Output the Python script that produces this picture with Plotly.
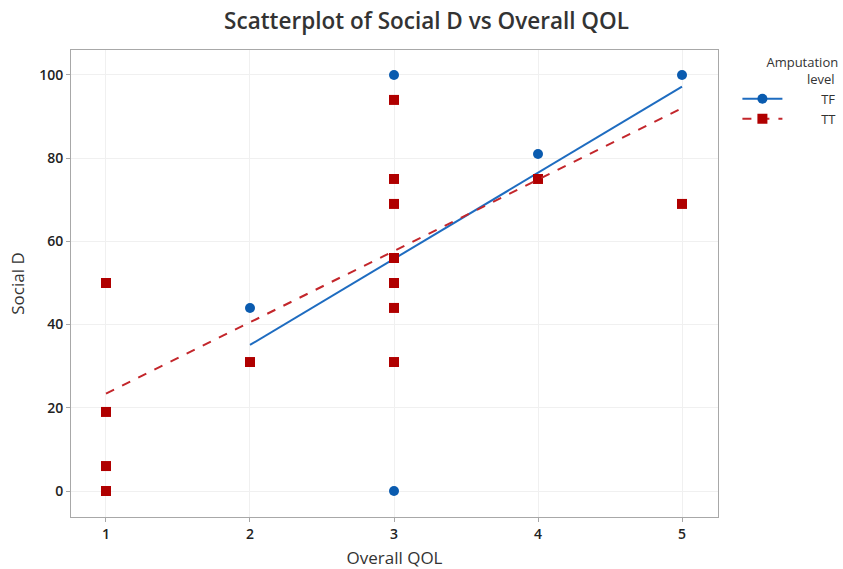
import plotly.graph_objects as go

# Data
tf_qol = [2, 3, 3, 4, 5]
tf_social = [44, 100, 0, 81, 100]
tt_qol = [1, 1, 1, 1, 2, 3, 3, 3, 3, 3, 3, 3, 4, 5]
tt_social = [50, 19, 6, 0, 31, 94, 75, 69, 56, 50, 44, 31, 75, 69]

# Fitted regression lines (end points)
tf_fit_x = [2, 5]
tf_fit_y = [35.1, 97.2]
tt_fit_x = [1, 5]
tt_fit_y = [23.4, 92.0]

x_ticks = [1, 2, 3, 4, 5]
y_ticks = [0, 20, 40, 60, 80, 100]

TF_COLOR = "#0A5BAF"
TT_COLOR = "#B00000"
FONT = "Open Sans"
NB = "\u00a0"

fig = go.Figure()

fig.add_trace(go.Scatter(
    x=tf_qol, y=tf_social, mode="markers", name="TF", legendgroup="TF",
    showlegend=False,
    marker=dict(symbol="circle", size=10, color=TF_COLOR),
))
fig.add_trace(go.Scatter(
    x=tf_fit_x, y=tf_fit_y, mode="lines", name="TF", legendgroup="TF",
    showlegend=False, line=dict(color="#1E6CC0", width=2),
))
fig.add_trace(go.Scatter(
    x=tt_qol, y=tt_social, mode="markers", name="TT", legendgroup="TT",
    showlegend=False,
    marker=dict(symbol="square", size=10, color=TT_COLOR),
))
fig.add_trace(go.Scatter(
    x=tt_fit_x, y=tt_fit_y, mode="lines", name="TT", legendgroup="TT",
    showlegend=False, line=dict(color="#C3262B", width=2, dash="dash"),
))

# legend entries (line + marker)
fig.add_trace(go.Scatter(
    x=[None], y=[None], mode="lines+markers", name=NB * 10 + "TF", legendgroup="TF",
    line=dict(color="#1E6CC0", width=2),
    marker=dict(symbol="circle", size=10, color=TF_COLOR),
))
fig.add_trace(go.Scatter(
    x=[None], y=[None], mode="lines+markers", name=NB * 10 + "TT", legendgroup="TT",
    line=dict(color="#C3262B", width=2, dash="dash"),
    marker=dict(symbol="square", size=10, color=TT_COLOR),
))

fig.update_layout(
    width=843, height=569,
    margin=dict(l=71, r=125, t=50, b=52, autoexpand=False),
    paper_bgcolor="white", plot_bgcolor="white",
    font=dict(family=FONT, color="#222222"),
    title=dict(text="Scatterplot of Social D vs Overall QOL",
               x=0.506, xanchor="center", xref="container", y=0.962, yanchor="middle",
               font=dict(size=22.5, color="#333333", family=FONT, weight=600)),
    legend=dict(
        x=1.03, y=1.0, xanchor="left", yanchor="top",
        title=dict(text=NB * 8 + "Amputation<br>" + NB * 20 + "level",
                   font=dict(size=13, color="#333333")),
        font=dict(size=13, color="#333333"),
        bgcolor="rgba(0,0,0,0)", itemwidth=40, tracegroupgap=0,
    ),
    showlegend=True,
)

fig.update_xaxes(
    range=[0.757, 5.25], tickvals=x_ticks, ticktext=[str(t) for t in x_ticks],
    showgrid=True, gridcolor="#F0F0F0", gridwidth=1, zeroline=False,
    showline=True, linecolor="#A8A8A8", linewidth=1, mirror=True,
    ticks="outside", ticklen=4, tickcolor="#A8A8A8",
    tickfont=dict(size=14, color="#222222", weight=600),
    title=dict(text="Overall QOL", font=dict(size=17, color="#333333"), standoff=14),
    automargin=False,
)
fig.update_yaxes(
    range=[-6.25, 106], tickvals=y_ticks, ticktext=[str(t) for t in y_ticks],
    showgrid=True, gridcolor="#F0F0F0", gridwidth=1, zeroline=False,
    showline=True, linecolor="#A8A8A8", linewidth=1, mirror=True,
    ticks="outside", ticklen=4, tickcolor="#A8A8A8",
    tickfont=dict(size=14, color="#222222", weight=600),
    title=dict(text="Social D", font=dict(size=17, color="#333333"), standoff=10),
    automargin=False,
)

fig.write_html("out.html")
